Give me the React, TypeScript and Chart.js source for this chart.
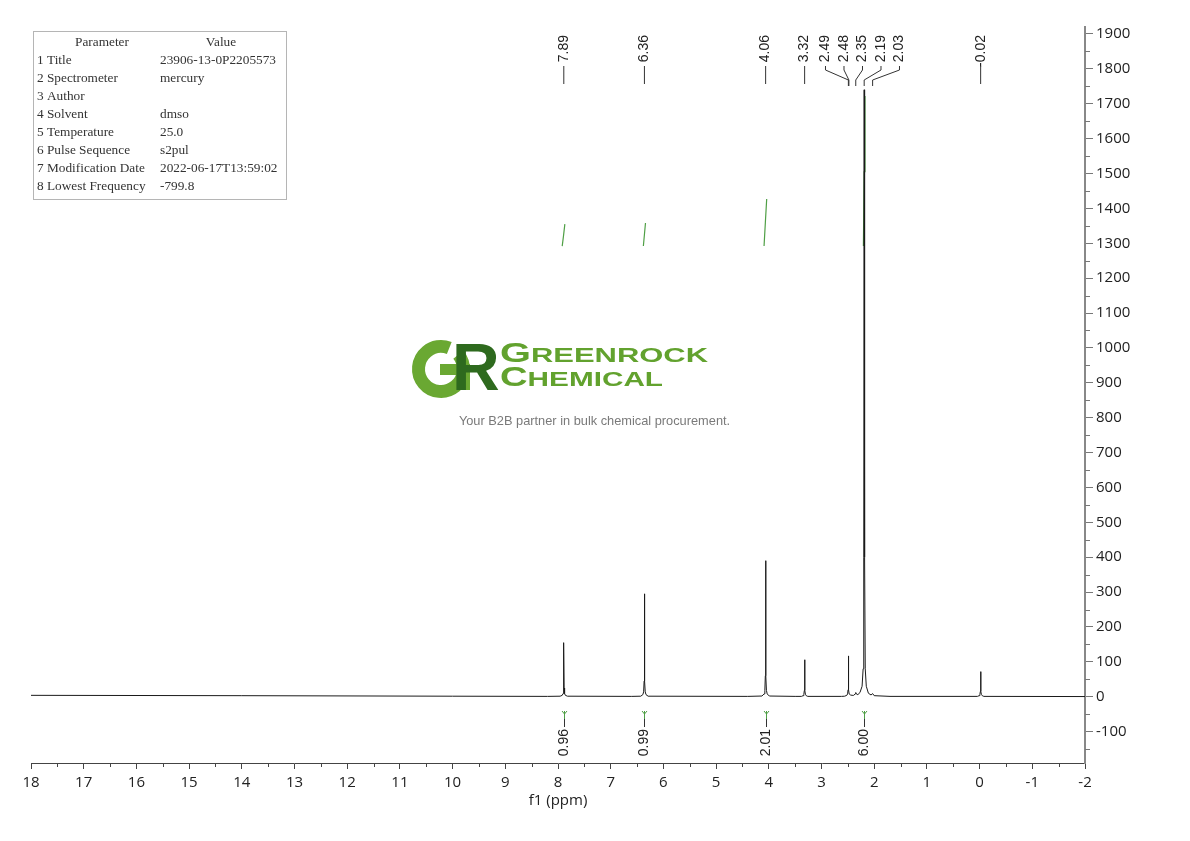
import React, { useEffect, useRef } from 'react';
import { Chart, registerables } from 'chart.js';

Chart.register(...registerables);

// ---------- DATA ----------
const spectrumPpm = [
  18, 14, 10, 8.2,
  7.96, 7.92, 7.905, 7.896, 7.89, 7.884, 7.875, 7.86, 7.82,
  6.6,
  6.43, 6.39, 6.375, 6.366, 6.36, 6.354, 6.345, 6.33, 6.29,
  4.4,
  4.13, 4.09, 4.075, 4.066, 4.06, 4.054, 4.045, 4.03, 3.99,
  3.5,
  3.38, 3.35, 3.335, 3.326, 3.32, 3.314, 3.305, 3.29, 3.26,
  2.62,
  2.56, 2.52, 2.505, 2.496, 2.49, 2.484, 2.475, 2.45, 2.42,
  2.39, 2.36, 2.35, 2.34, 2.31,
  2.27, 2.23, 2.21, 2.198, 2.19, 2.182, 2.17, 2.15, 2.11,
  2.06, 2.03, 2.0,
  1.7,
  0.04, 0.01, -0.005, -0.014, -0.02, -0.026, -0.035, -0.05, -0.08,
  -2,
];
const spectrumIntensity = [
  4, 3, 1.5, 1,
  1.5, 4, 9, 25, 155, 25, 9, 4, 1.5,
  1,
  1.5, 6, 14, 45, 295, 45, 14, 6, 1.5,
  1,
  2, 8, 18, 60, 390, 60, 18, 8, 2,
  1,
  1, 3, 7, 18, 106, 18, 7, 3, 1,
  1,
  1.5, 4, 8, 20, 117, 20, 8, 5, 4,
  4, 8, 12, 8, 6,
  12, 30, 80, 400, 1740, 400, 80, 30, 10,
  5, 9, 3,
  1,
  1, 3, 6, 15, 72, 15, 6, 3, 1,
  0.5,
];

const integralCurvePpm = [
  [7.92, 7.895, 7.87],
  [6.38, 6.36, 6.34],
  [4.09, 4.065, 4.04],
  [2.205, 2.19, 2.175],
];
const integralCurveValue = [
  [1292, 1322, 1355],
  [1292, 1325, 1358],
  [1292, 1360, 1427],
  [1292, 1505, 1722],
];

const peakLabelPpm = [7.89, 6.36, 4.06, 3.32, 2.49, 2.48, 2.35, 2.19, 2.03, -0.02];
const peakLabelText = ['7.89', '6.36', '4.06', '3.32', '2.49', '2.48', '2.35', '2.19', '2.03', '-0.02'];

const integralPpm = [7.89, 6.36, 4.06, 2.19];
const integralText = ['0.96', '0.99', '2.01', '6.00'];

const xTickValues = [18, 17, 16, 15, 14, 13, 12, 11, 10, 9, 8, 7, 6, 5, 4, 3, 2, 1, 0, -1, -2];
const yTickValues = [-100, 0, 100, 200, 300, 400, 500, 600, 700, 800, 900, 1000, 1100, 1200, 1300, 1400, 1500, 1600, 1700, 1800, 1900];

const paramNames = ['Title', 'Spectrometer', 'Author', 'Solvent', 'Temperature', 'Pulse Sequence', 'Modification Date', 'Lowest Frequency'];
const paramValues = ['23906-13-0P2205573', 'mercury', '', 'dmso', '25.0', 's2pul', '2022-06-17T13:59:02', '-799.8'];

const X_MIN = -2;
const X_MAX = 18;
const Y_MIN = -190;
const Y_MAX = 1920;

// ---------- HELPERS ----------
function spreadLabels(xs: number[], gap: number): number[] {
  const order = xs.map((_, i) => i).sort((a, b) => xs[a] - xs[b]);
  let groups = order.map((i) => ({ idx: [i], center: xs[i] }));
  let merged = true;
  while (merged) {
    merged = false;
    for (let g = 0; g < groups.length - 1; g++) {
      const a = groups[g];
      const b = groups[g + 1];
      const aRight = a.center + ((a.idx.length - 1) * gap) / 2;
      const bLeft = b.center - ((b.idx.length - 1) * gap) / 2;
      if (bLeft - aRight < gap) {
        const idx = a.idx.concat(b.idx);
        const vals = idx.map((i) => xs[i]);
        const center = (Math.min(...vals) + Math.max(...vals)) / 2 + 2;
        groups.splice(g, 2, { idx, center });
        merged = true;
        break;
      }
    }
  }
  const out: number[] = new Array(xs.length).fill(0);
  groups.forEach((g) =>
    g.idx.forEach((i, k) => {
      out[i] = g.center + (k - (g.idx.length - 1) / 2) * gap;
    })
  );
  return out;
}

function seg(ctx: CanvasRenderingContext2D, pts: number[][]) {
  ctx.beginPath();
  ctx.moveTo(pts[0][0], pts[0][1]);
  for (let i = 1; i < pts.length; i++) ctx.lineTo(pts[i][0], pts[i][1]);
  ctx.stroke();
}

function rotatedText(ctx: CanvasRenderingContext2D, text: string, x: number, yTop: number) {
  ctx.save();
  ctx.translate(x, yTop);
  ctx.rotate(-Math.PI / 2);
  ctx.textAlign = 'right';
  ctx.textBaseline = 'middle';
  ctx.fillText(text, 0, 0);
  ctx.restore();
}

const GREEN = '#4f9f45';

const backgroundPlugin = {
  id: 'watermark',
  beforeDatasetsDraw(chart: any) {
    const ctx: CanvasRenderingContext2D = chart.ctx;
    ctx.save();
    // "G" ring-like mark
    ctx.strokeStyle = '#6aa832';
    ctx.lineWidth = 13;
    ctx.beginPath();
    ctx.arc(441, 369, 22.5, -Math.PI * 0.22, Math.PI * 1.62, false);
    ctx.stroke();
    ctx.fillStyle = '#6aa832';
    ctx.fillRect(440, 364, 30, 11);
    ctx.fillRect(458, 364, 12, 26);

    ctx.textBaseline = 'alphabetic';
    ctx.textAlign = 'left';
    ctx.fillStyle = '#2e6a1e';
    ctx.font = 'bold 66px "Liberation Sans", Arial, sans-serif';
    ctx.fillText('R', 452, 390);

    const drawWord = (big: string, rest: string, x: number, y: number, targetW: number) => {
      ctx.save();
      ctx.font = 'bold 27px "Liberation Sans", Arial, sans-serif';
      const w1 = ctx.measureText(big).width;
      ctx.font = 'bold 21px "Liberation Sans", Arial, sans-serif';
      const w2 = ctx.measureText(rest).width;
      const sx = targetW / (w1 + w2);
      ctx.translate(x, y);
      ctx.scale(sx, 1);
      ctx.fillStyle = '#62a22e';
      ctx.font = 'bold 27px "Liberation Sans", Arial, sans-serif';
      ctx.fillText(big, 0, 0);
      ctx.font = 'bold 21px "Liberation Sans", Arial, sans-serif';
      ctx.fillText(rest, w1, 0);
      ctx.restore();
    };
    drawWord('G', 'REENROCK', 500, 362, 208);
    drawWord('C', 'HEMICAL', 500, 386, 163);

    ctx.fillStyle = '#7a7a7a';
    ctx.font = '12.8px "Liberation Sans", Arial, sans-serif';
    ctx.textAlign = 'center';
    ctx.fillText('Your B2B partner in bulk chemical procurement.', 594.5, 425);
    ctx.restore();
  },
};

const annotationPlugin = {
  id: 'nmrAnnotations',
  afterDraw(chart: any) {
    const ctx: CanvasRenderingContext2D = chart.ctx;
    const xs = chart.scales.x;
    const ys = chart.scales.y;
    const area = chart.chartArea;
    ctx.save();

    // minor ticks
    ctx.strokeStyle = '#444';
    ctx.lineWidth = 1;
    for (let v = X_MIN; v < X_MAX; v += 1) {
      const px = Math.round(xs.getPixelForValue(v + 0.5)) + 0.5;
      seg(ctx, [[px, area.bottom], [px, area.bottom + 4]]);
    }
    ctx.strokeStyle = '#777';
    for (let v = -150; v <= 1850; v += 100) {
      const py = Math.round(ys.getPixelForValue(v)) + 0.5;
      seg(ctx, [[area.right, py], [area.right + 5, py]]);
    }

    // peak labels
    const peakX = peakLabelPpm.map((p) => xs.getPixelForValue(p));
    const labelX = spreadLabels(peakX, 18.5);
    ctx.fillStyle = '#222';
    ctx.strokeStyle = '#333';
    ctx.lineWidth = 1;
    ctx.font = '14px "Liberation Sans", Arial, sans-serif';
    peakLabelText.forEach((t, i) => {
      const lx = labelX[i];
      const px = peakX[i];
      rotatedText(ctx, t, lx, 35);
      if (Math.abs(lx - px) < 0.6) {
        seg(ctx, [[lx, 66], [lx, 84]]);
      } else {
        seg(ctx, [[lx, 66], [lx, 70], [px, 80], [px, 86]]);
      }
    });

    // integral labels
    integralPpm.forEach((p, i) => {
      const x = Math.round(xs.getPixelForValue(p)) + 0.5;
      ctx.strokeStyle = GREEN;
      seg(ctx, [[x - 2.5, 711], [x, 714], [x + 2.5, 711]]);
      seg(ctx, [[x, 711], [x, 719]]);
      ctx.strokeStyle = '#333';
      seg(ctx, [[x, 719], [x, 727]]);
      ctx.fillStyle = '#222';
      rotatedText(ctx, integralText[i], x, 729);
    });

    // parameter table
    ctx.strokeStyle = '#b5b5b5';
    ctx.lineWidth = 1;
    ctx.strokeRect(33.5, 31.5, 253, 168);
    ctx.fillStyle = '#333';
    ctx.font = '13.3px "Liberation Serif", "DejaVu Serif", serif';
    ctx.textBaseline = 'middle';
    ctx.textAlign = 'center';
    ctx.fillText('Parameter', 102, 43);
    ctx.fillText('Value', 221, 43);
    ctx.textAlign = 'left';
    paramNames.forEach((n, i) => {
      const y = 61 + i * 17.9;
      ctx.fillText(`${i + 1} ${n}`, 37, y);
      ctx.fillText(paramValues[i], 160, y);
    });

    ctx.restore();
  },
};

export default function App() {
  const canvasRef = useRef<HTMLCanvasElement | null>(null);

  useEffect(() => {
    const canvas = canvasRef.current;
    if (!canvas) return;
    const spectrum = spectrumPpm.map((x, i) => ({ x, y: spectrumIntensity[i] }));
    const integralSets = integralCurvePpm.map((arr, k) => ({
      label: `integral ${k + 1}`,
      data: arr.map((x, i) => ({ x, y: integralCurveValue[k][i] })),
      borderColor: GREEN,
      borderWidth: 1.2,
      pointRadius: 0,
      showLine: true,
    }));

    const tickFont = { family: '"Open Sans", "Noto Sans", sans-serif', size: 15 };
    const chart = new Chart(canvas, {
      type: 'scatter',
      data: {
        datasets: [
          {
            label: 'f1',
            data: spectrum,
            borderColor: '#1a1a1a',
            borderWidth: 1,
            pointRadius: 0,
            showLine: true,
          },
          ...integralSets,
        ],
      },
      options: {
        responsive: false,
        animation: false,
        devicePixelRatio: 1,
        layout: { padding: { left: 31, top: 27, right: 0, bottom: 0 } },
        plugins: { legend: { display: false }, tooltip: { enabled: false } },
        scales: {
          x: {
            type: 'linear',
            position: 'bottom',
            min: X_MIN,
            max: X_MAX,
            reverse: true,
            afterBuildTicks: (s: any) => {
              s.ticks = xTickValues.map((v) => ({ value: v }));
            },
            ticks: {
              autoSkip: false,
              maxRotation: 0,
              font: tickFont,
              color: '#222',
              padding: 5,
              callback: (v: any) => String(v),
            },
            grid: { display: true, drawOnChartArea: false, drawTicks: true, tickLength: 6, tickColor: '#444', color: '#444' },
            border: { display: true, color: '#444', width: 1 },
            title: {
              display: true,
              text: 'f1 (ppm)',
              font: tickFont,
              color: '#222',
              padding: { top: 0, bottom: 31 },
            },
            afterFit: (s: any) => {
              s.height = 78;
            },
          },
          y: {
            type: 'linear',
            position: 'right',
            min: Y_MIN,
            max: Y_MAX,
            afterBuildTicks: (s: any) => {
              s.ticks = yTickValues.map((v) => ({ value: v }));
            },
            ticks: {
              autoSkip: false,
              font: tickFont,
              color: '#222',
              padding: 3,
              callback: (v: any) => String(v),
            },
            grid: { display: true, drawOnChartArea: false, drawTicks: true, tickLength: 8, tickColor: '#777', color: '#777' },
            border: { display: true, color: '#888', width: 2 },
            afterFit: (s: any) => {
              s.width = 105;
            },
          },
        },
      } as any,
      plugins: [backgroundPlugin, annotationPlugin],
    });
    return () => chart.destroy();
  }, []);

  return (
    <div style={{ position: 'fixed', left: 0, top: 0, width: 1190, height: 841, background: '#fff' }}>
      <canvas ref={canvasRef} width={1190} height={841} style={{ display: 'block' }} />
    </div>
  );
}
